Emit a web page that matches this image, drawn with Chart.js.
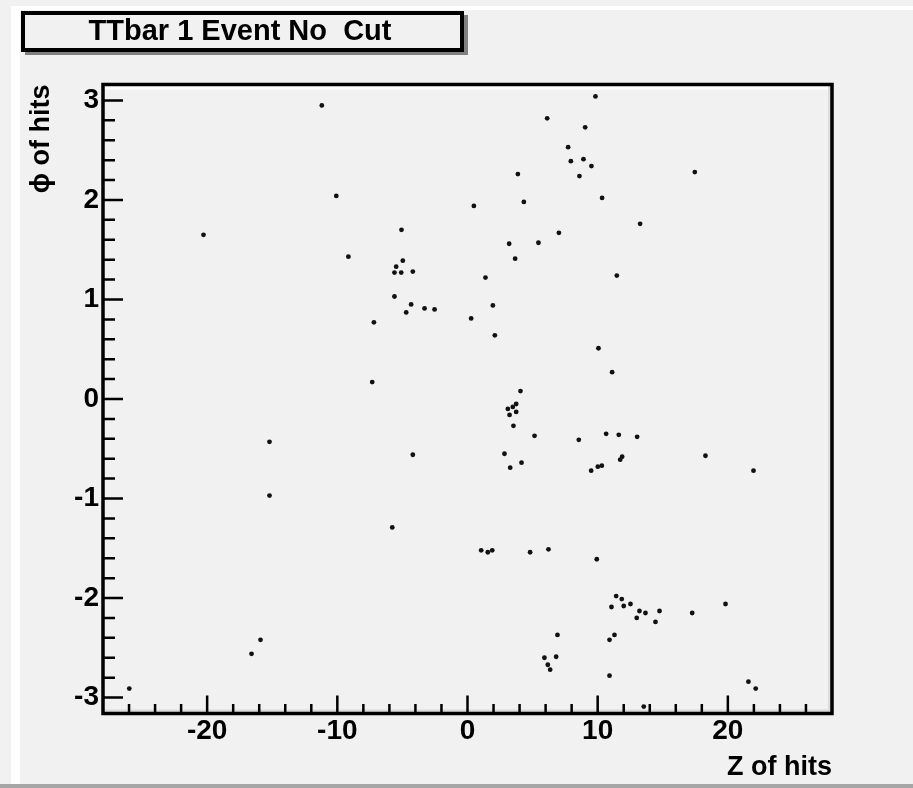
<!DOCTYPE html>
<html>
<head>
<meta charset="utf-8">
<title>TTbar 1 Event No Cut</title>
<script src="https://cdn.jsdelivr.net/npm/chart.js@4.4.1/dist/chart.umd.min.js"></script>
<style>
  html, body { margin: 0; padding: 0; background: #f1f1f1; }
  canvas { display: block; }
</style>
</head>
<body>
<canvas id="chart" width="913" height="788"></canvas>
<script>
// hit positions for the event: z along the beam, phi azimuth
const zHits = [
  -11.19, -10.08, -20.28, -9.15, 6.12, 9.04, 7.73, 7.94, 8.91, 8.60,
  3.87, 4.33, 0.49, -5.07, 7.02, 3.20, 5.45, 3.66, -4.97, -5.48,
  -5.61, -5.09, -4.20, 1.38, -5.61, 9.83, 9.52, 17.46, 10.34, 13.26,
  11.47, -4.33, -4.71, -3.30, -2.53, 1.95, 0.28, -7.19, 2.10, -7.32,
  4.07, 3.74, 3.10, 3.23, 3.74, 3.48, 3.53, 5.15, 8.55, -4.20,
  2.84, 3.28, 4.15, -15.21, -15.21, 10.06, 11.11, 10.65, 11.62, 13.03,
  11.88, 11.73, 18.28, 10.32, 10.01, 9.50, 21.97, -15.90, -16.59, -25.98,
  -5.78, 1.05, 1.56, 1.90, 4.81, 6.22, 6.91, 6.81, 5.91, 6.17,
  6.35, 9.93, 11.42, 11.85, 12.52, 11.06, 12.00, 13.21, 13.67, 13.00,
  14.75, 14.44, 17.26, 19.82, 11.29, 10.91, 10.91, 21.58, 22.14, 13.54
];
const phiHits = [
  2.95, 2.04, 1.65, 1.43, 2.82, 2.73, 2.53, 2.39, 2.41, 2.24,
  2.26, 1.98, 1.94, 1.70, 1.67, 1.56, 1.57, 1.41, 1.39, 1.33,
  1.27, 1.27, 1.28, 1.22, 1.03, 3.04, 2.34, 2.28, 2.02, 1.76,
  1.24, 0.95, 0.87, 0.91, 0.90, 0.94, 0.81, 0.77, 0.64, 0.17,
  0.08, -0.05, -0.10, -0.16, -0.13, -0.08, -0.27, -0.37, -0.41, -0.56,
  -0.55, -0.69, -0.64, -0.43, -0.97, 0.51, 0.27, -0.35, -0.36, -0.38,
  -0.58, -0.61, -0.57, -0.67, -0.68, -0.72, -0.72, -2.42, -2.56, -2.91,
  -1.29, -1.52, -1.54, -1.52, -1.54, -1.51, -2.37, -2.59, -2.60, -2.67,
  -2.72, -1.61, -1.98, -2.01, -2.06, -2.09, -2.08, -2.13, -2.15, -2.20,
  -2.13, -2.24, -2.15, -2.06, -2.37, -2.42, -2.78, -2.84, -2.91, -3.09
];

const xTickValues = [-20, -10, 0, 10, 20];
const yTickValues = [-3, -2, -1, 0, 1, 2, 3];
const titleText = 'TTbar 1 Event No  Cut';

const FONT = '"Liberation Sans", Arial, Helvetica, sans-serif';

// pad decorations: window edges, title box, bevelled frame and inward ticks
const padFrame = {
  id: 'padFrame',
  beforeDraw(chart) {
    const { ctx, width, height } = chart;
    ctx.save();
    ctx.fillStyle = '#f1f1f1';
    ctx.fillRect(0, 0, width, height);
    ctx.fillStyle = '#ffffff';
    ctx.fillRect(11, 6, width - 11, 4);
    ctx.fillRect(11, 6, 9, height - 9);
    ctx.fillStyle = '#a6a6a6';
    ctx.fillRect(0, height - 4, width, 4);

    // title box with drop shadow
    ctx.fillStyle = '#808080';
    ctx.fillRect(25, 15, 443, 40);
    ctx.fillStyle = '#f1f1f1';
    ctx.fillRect(21, 11, 443, 41);
    ctx.strokeStyle = '#000';
    ctx.lineWidth = 4;
    ctx.strokeRect(23, 13, 439, 37);
    ctx.fillStyle = '#000';
    ctx.font = 'bold 29px ' + FONT;
    ctx.textAlign = 'center';
    ctx.textBaseline = 'middle';
    ctx.fillText(titleText, 240, 32);
    ctx.restore();
  },
  beforeDatasetsDraw(chart) {
    const { ctx, chartArea: a } = chart;
    ctx.save();
    ctx.fillStyle = '#ffffff';
    ctx.fillRect(a.left, a.top, a.right - a.left, 5);
    ctx.fillStyle = '#dcdcdc';
    ctx.fillRect(a.right - 4, a.top, 4, a.bottom - a.top);
    ctx.fillRect(a.left, a.bottom - 4, a.right - a.left, 4);
    ctx.restore();
  },
  afterDatasetsDraw(chart) {
    const { ctx, chartArea: a, scales } = chart;
    const xs = scales.x, ys = scales.y;
    ctx.save();
    ctx.strokeStyle = '#000';
    ctx.lineWidth = 2.5;
    ctx.beginPath();
    // x ticks every 2, majors every 10
    for (let i = -13; i <= 13; i++) {
      const v = i * 2;
      const px = xs.getPixelForValue(v);
      const len = v % 10 === 0 ? 18 : 9.5;
      ctx.moveTo(px, a.bottom);
      ctx.lineTo(px, a.bottom - len);
    }
    // y ticks every 0.2, majors every 1
    for (let i = -15; i <= 15; i++) {
      const v = i / 5;
      const py = ys.getPixelForValue(v);
      const len = i % 5 === 0 ? 20 : 12;
      ctx.moveTo(a.left, py);
      ctx.lineTo(a.left + len, py);
    }
    ctx.stroke();
    ctx.lineWidth = 3.5;
    ctx.strokeRect(a.left, a.top, a.right - a.left, a.bottom - a.top);
    ctx.restore();
  }
};

const tickFont = { family: FONT, size: 28, weight: 'bold', lineHeight: 1 };
const titleFont = { family: FONT, size: 27, weight: 'bold', lineHeight: 1 };

new Chart(document.getElementById('chart'), {
  type: 'scatter',
  data: {
    datasets: [{
      data: zHits.map((z, i) => ({ x: z, y: phiHits[i] })),
      backgroundColor: '#111',
      borderColor: '#111',
      borderWidth: 0,
      pointStyle: 'circle',
      pointRadius: 2.4,
      pointHoverRadius: 2.4
    }]
  },
  options: {
    responsive: false,
    animation: false,
    events: [],
    layout: { padding: { left: 0, top: 84.5, right: 81, bottom: 0 } },
    plugins: {
      legend: { display: false },
      title: { display: false },
      tooltip: { enabled: false }
    },
    scales: {
      x: {
        type: 'linear',
        min: -28,
        max: 28,
        grid: { display: false, drawTicks: false },
        border: { display: false },
        afterBuildTicks: (scale) => { scale.ticks = xTickValues.map((v) => ({ value: v })); },
        afterFit: (scale) => { scale.height = 74.5; },
        ticks: { font: tickFont, color: '#000', padding: 4, maxRotation: 0 },
        title: {
          display: true, text: 'Z of hits', align: 'end',
          color: '#000', font: titleFont, padding: { bottom: 7 }
        }
      },
      y: {
        type: 'linear',
        min: -3.16,
        max: 3.16,
        grid: { display: false, drawTicks: false },
        border: { display: false },
        afterBuildTicks: (scale) => { scale.ticks = yTickValues.map((v) => ({ value: v })); },
        afterFit: (scale) => { scale.width = 103; },
        ticks: { font: tickFont, color: '#000', padding: 4 },
        title: {
          display: true, text: 'ϕ of hits', align: 'end',
          color: '#000', font: titleFont, padding: { top: 28 }
        }
      }
    }
  },
  plugins: [padFrame]
});
</script>
</body>
</html>
